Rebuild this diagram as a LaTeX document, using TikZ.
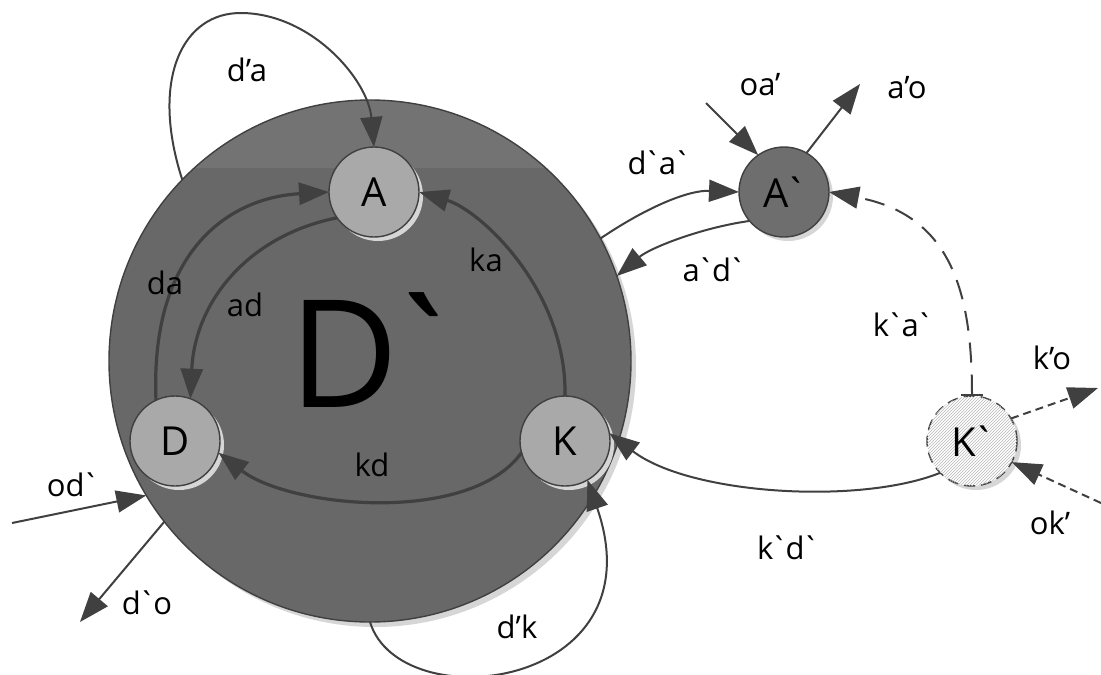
\documentclass[tikz,border=0pt]{standalone}
\usepackage{fontspec}
\newfontfamily\lab{Open Sans}[Ligatures=TeXOff]
\newcommand\gr{\kern-0.1em`\kern-0.08em}
\usetikzlibrary{arrows.meta,patterns,shadows}
\definecolor{ln}{HTML}{404040}
\definecolor{bigfill}{HTML}{686868}
\definecolor{bandc}{HTML}{737373}
\definecolor{innerfill}{HTML}{A9A9A9}
\definecolor{afill}{HTML}{6E6E6E}
\definecolor{shadowc}{HTML}{D6D6D6}
\begin{document}
\begin{tikzpicture}[x=1pt,y=-1pt,
  lbl/.style={font=\lab\fontsize{31}{33}\selectfont, text=black, inner sep=0pt},
  shad/.style={drop shadow={shadow xshift=4pt, shadow yshift=-4pt, fill=shadowc, opacity=1}},
  innernode/.style={circle, draw=ln, line width=1.4pt, fill=innerfill, minimum size=90pt, inner sep=0pt, outer sep=0pt, shad, font=\lab\fontsize{40}{42}\selectfont},
  anode/.style={innernode, fill=afill},
  hnode/.style={innernode, fill=white, dash pattern=on 11pt off 6pt, postaction={pattern=north east lines, pattern color=gray!55}},
  bignode/.style={circle, draw=ln, line width=1.4pt, fill=bigfill, minimum size=522pt, inner sep=0pt, outer sep=0pt,
    drop shadow={shadow xshift=5pt, shadow yshift=-5pt, fill=shadowc, opacity=1},
    path picture={\fill[bandc] (path picture bounding box.north west) rectangle ([yshift=-68pt]path picture bounding box.north east);}},
  tip/.tip={Triangle[length=30pt,width=22pt]},
  thinc/.style={draw=ln, line width=2pt, -tip},
  thickc/.style={draw=ln, line width=3.2pt, -tip},
  dashc/.style={thinc, dash pattern=on 20pt off 12pt, {Bar[width=22pt]}-tip},
  dotc/.style={thinc, dash pattern=on 8pt off 5pt}
]
\useasboundingbox[fill=white] (0,0) rectangle (1101,675);

% big circle
\node[bignode] (B) at (370,361) {};
\node[font=\lab\fontsize{150}{150}\selectfont, inner sep=0pt] (Dt) at (378,350) {D\kern-0.12em`};

% inner nodes
\node[innernode] (A) at (374,192) {A};
\node[innernode] (D) at (175,441) {D};
\node[innernode] (K) at (565,441) {K};
\node[anode] (A2) at (784,192) {A\gr};
\node[hnode] (K2) at (972,441) {K\gr};

% free ends
\coordinate (odS) at (12,523);
\coordinate (doE) at (80,622);
\coordinate (oaS) at (706,103);
\coordinate (aoE) at (860,84);
\coordinate (koE) at (1098,388);
\coordinate (okS) at (1101,503);

% connectors
\draw[thinc] (B.136) .. controls (150,80) and (182,12) .. (242,13) .. controls (312,14) and (368,80) .. (A.north);
\draw[thickc] (D.115) .. controls (150,255) and (225,198) .. (A.west);
\draw[thickc] (A.215) .. controls (250,235) and (195,300) .. (D.70);
\draw[thickc] (K.north) .. controls (567,290) and (480,210) .. (A.east);
\draw[thickc] (K.195) .. controls (470,525) and (290,508) .. (D.345);
\draw[thinc] (B.270) .. controls (400,720) and (660,690) .. (K.300);
\draw[thinc] (B.28) .. controls (650,205) and (690,190) .. (A2.west);
\draw[thinc] (A2.220) .. controls (700,228) and (650,248) .. (B.19);
\draw[dashc] (K2.north) .. controls (972,290) and (950,215) .. (A2.east);
\draw[thinc] (K2.225) .. controls (860,505) and (690,495) .. (K.10);
\draw[dotc] (K2.30) -- (koE);
\draw[dotc] (okS) -- (K2.-28);
\draw[thinc] (oaS) -- (A2.125);
\draw[thinc] (A2.60) -- (aoE);
\draw[thinc] (odS) -- (B.211);
\draw[thinc] (B.218) -- (doE);

% labels
\node[lbl] (l1) at (247,70) {d’a};
\node[lbl] (l2) at (165,283) {da};
\node[lbl] (l3) at (245,305) {ad};
\node[lbl] (l4) at (486,260) {ka};
\node[lbl] (l5) at (372,465) {kd};
\node[lbl] (l6) at (517,627) {d’k};
\node[lbl] (l7) at (658,163) {d\gr a\gr};
\node[lbl] (l8) at (713,270) {a\gr d\gr};
\node[lbl] (l9) at (902,325) {k\gr a\gr};
\node[lbl] (l10) at (1052,358) {k’o};
\node[lbl] (l11) at (1050,523) {ok’};
\node[lbl] (l12) at (787,548) {k\gr d\gr};
\node[lbl] (l13) at (760,85) {oa’};
\node[lbl] (l14) at (907,88) {a’o};
\node[lbl] (l15) at (72,485) {od\gr};
\node[lbl] (l16) at (147,603) {d\gr o};
\end{tikzpicture}
\end{document}
